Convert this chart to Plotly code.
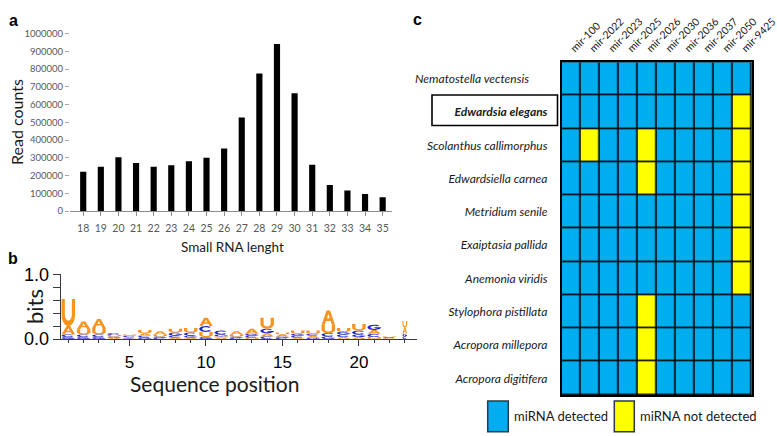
import numpy as np
import plotly.graph_objects as go

# ---------------- data ----------------
# panel a
rna_lengths = list(range(18, 36))
read_counts = [222000, 250000, 303000, 271000, 250000, 258000, 280000, 301000, 353000,
               528000, 776000, 942000, 664000, 261000, 147000, 115000, 96000, 77000]
count_ticks = list(range(0, 1000001, 100000))

# panel b (sequence logo, bits per letter)
positions = list(range(1, 24))
bits_A = [0.13, 0.12, 0.14, 0.02, 0.02, 0.04, 0.05, 0.02, 0.02, 0.13, 0.02, 0.05, 0.08, 0.05, 0.03, 0.02, 0.03, 0.22, 0.03, 0.03, 0.06, 0.01, 0.10]
bits_C = [0.04, 0.04, 0.04, 0.03, 0.02, 0.03, 0.02, 0.03, 0.05, 0.09, 0.06, 0.02, 0.03, 0.04, 0.02, 0.03, 0.03, 0.05, 0.04, 0.06, 0.05, 0.01, 0.04]
bits_G = [0.03, 0.03, 0.03, 0.02, 0.01, 0.02, 0.02, 0.05, 0.03, 0.03, 0.03, 0.02, 0.03, 0.07, 0.02, 0.03, 0.02, 0.04, 0.04, 0.04, 0.08, 0.01, 0.04]
bits_U = [0.42, 0.08, 0.10, 0.02, 0.02, 0.05, 0.03, 0.06, 0.07, 0.08, 0.02, 0.03, 0.02, 0.17, 0.03, 0.05, 0.05, 0.13, 0.06, 0.10, 0.03, 0.01, 0.10]
bits_ticks = [0.0, 0.2, 0.4, 0.6, 0.8, 1.0]
bits_ticktext = ["0.0", "", "", "", "", "1.0"]

# panel c
mirnas = ["mir-100", "mir-2022", "mir-2023", "mir-2025", "mir-2026",
          "mir-2030", "mir-2036", "mir-2037", "mir-2050", "mir-9425"]
species = ["Nematostella vectensis", "Edwardsia elegans", "Scolanthus callimorphus",
           "Edwardsiella carnea", "Metridium senile", "Exaiptasia pallida",
           "Anemonia viridis", "Stylophora pistillata", "Acropora millepora",
           "Acropora digitifera"]
detected = [
    [1, 1, 1, 1, 1, 1, 1, 1, 1, 1],
    [1, 1, 1, 1, 1, 1, 1, 1, 1, 0],
    [1, 0, 1, 1, 0, 1, 1, 1, 1, 0],
    [1, 1, 1, 1, 0, 1, 1, 1, 1, 0],
    [1, 1, 1, 1, 1, 1, 1, 1, 1, 0],
    [1, 1, 1, 1, 1, 1, 1, 1, 1, 0],
    [1, 1, 1, 1, 1, 1, 1, 1, 1, 0],
    [1, 1, 1, 1, 0, 1, 1, 1, 1, 1],
    [1, 1, 1, 1, 0, 1, 1, 1, 1, 1],
    [1, 1, 1, 1, 0, 1, 1, 1, 1, 1],
]
highlight_species = "Edwardsia elegans"
legend_labels = ["miRNA detected", "miRNA not detected"]

# ---------------- styles ----------------
W, H = 777, 436
BLUE = "#00AEEF"
YELLOW = "#FFFF00"
ORANGE = "#F7941D"
LOGO_BLUE = "#2222C4"
LETTER_COLORS = {"A": ORANGE, "U": ORANGE, "C": LOGO_BLUE, "G": LOGO_BLUE}
LETTER_W = 0.88
NARROW_W = {23: 0.3}


def px(x):
    return x / W


def py(y):
    return 1 - y / H


def arc(cx, cy, rx, ry, a0, a1, n=28):
    t = np.radians(np.linspace(a0, a1, n))
    return list(zip(cx + rx * np.cos(t), cy + ry * np.sin(t)))


GLYPHS = {
    "U": ([[(0, 1)] + arc(.5, .42, .5, .42, 180, 360) + [(1, 1), (.76, 1)]
           + arc(.5, .44, .26, .24, 360, 180) + [(.24, 1)]], "nonzero"),
    "A": ([[(0, 0), (.37, 1), (.63, 1), (1, 0), (.76, 0), (.67, .27), (.33, .27), (.24, 0)],
           [(.4, .45), (.5, .76), (.6, .45)]], "evenodd"),
    "C": ([arc(.5, .5, .5, .5, 40, 320) + arc(.5, .5, .28, .3, 320, 40)], "nonzero"),
    "G": ([arc(.5, .5, .5, .5, 40, 345) + arc(.5, .5, .28, .3, 345, 40),
           [(.52, .34), (1, .34), (1, .5), (.52, .5)]], "nonzero"),
}

fig = go.Figure()

# ---------------- panel a: bars ----------------
fig.add_trace(go.Bar(x=rna_lengths, y=read_counts, width=0.35,
                     marker=dict(color="black", line=dict(width=0)),
                     xaxis="x", yaxis="y", showlegend=False))

# ---------------- panel b: sequence logo ----------------
shapes = []
letter_bits = {"A": bits_A, "C": bits_C, "G": bits_G, "U": bits_U}
for i, p in enumerate(positions):
    w = NARROW_W.get(p, LETTER_W)
    stack = sorted(((letter_bits[L][i], L) for L in "ACGU"), key=lambda t: t[0])
    base = 0.0
    for h, L in stack:
        if h <= 0:
            continue
        subpaths, rule = GLYPHS[L]
        d = ""
        for sp in subpaths:
            pts = [(p - w / 2 + u * w, base + v * h) for u, v in sp]
            d += "M" + " L".join(f"{a:.4f},{b:.5f}" for a, b in pts) + " Z "
        shapes.append(dict(type="path", path=d, xref="x2", yref="y2",
                           fillcolor=LETTER_COLORS[L], line=dict(width=0),
                           fillrule=rule, layer="above"))
        base += h

# invisible trace to anchor logo axes
fig.add_trace(go.Scatter(x=positions, y=[0] * len(positions), mode="markers",
                         marker=dict(opacity=0), xaxis="x2", yaxis="y2",
                         showlegend=False, hoverinfo="skip"))

# ---------------- panel c: heatmap ----------------
fig.add_trace(go.Heatmap(z=detected, x=mirnas, y=species, xaxis="x3", yaxis="y3",
                         colorscale=[[0, YELLOW], [0.5, YELLOW], [0.5, BLUE], [1, BLUE]],
                         zmin=0, zmax=1, showscale=False, xgap=1.6, ygap=1.6,
                         hoverinfo="skip"))
shapes.append(dict(type="rect", xref="x3 domain", yref="y3 domain", x0=0, x1=1, y0=0, y1=1,
                   fillcolor="black", line=dict(width=0), layer="below"))

# box around highlighted species
shapes.append(dict(type="rect", xref="paper", yref="paper",
                   x0=px(432), x1=px(557.5), y0=py(125.5), y1=py(95),
                   line=dict(color="black", width=1.6), fillcolor="rgba(0,0,0,0)"))

# legend boxes
legend_boxes = [(487.7, 508.3, BLUE), (614.3, 634.3, YELLOW)]
for (x0, x1, c) in legend_boxes:
    shapes.append(dict(type="rect", xref="paper", yref="paper",
                       x0=px(x0), x1=px(x1), y0=py(431.7), y1=py(401),
                       fillcolor=c, line=dict(color="#2b3a4a", width=1.5)))

row_text = []
for s in species:
    if s == highlight_species:
        row_text.append(f"<b><i>{s}</i></b>")
    elif s == species[0]:
        row_text.append(f"<i>{s}</i>" + "\u00a0" * 6)
    else:
        row_text.append(f"<i>{s}</i>")

annotations = []


def ann(text, x, y, size, family="Lato", angle=0, color="#1a1a1a", xanchor="center"):
    annotations.append(dict(text=text, x=px(x), y=py(y), xref="paper", yref="paper",
                            showarrow=False, textangle=angle, xanchor=xanchor,
                            yanchor="middle", font=dict(size=size, family=family, color=color)))


ann("<b>a</b>", 13, 21, 16, family="Liberation Sans", color="black")
ann("<b>b</b>", 13, 258, 16, family="Liberation Sans", color="black")
ann("<b>c</b>", 417, 19, 16, family="Liberation Sans", color="black")
ann("Read counts", 16, 122, 16, angle=-90)
ann("Small RNA lenght", 233, 246.5, 13.5)
ann("bits", 34, 307, 22, angle=-90)
ann("Sequence position", 214, 383, 21)
ann(legend_labels[0], 511.5, 416, 13, xanchor="left")
ann(legend_labels[1], 637.5, 416, 13, xanchor="left")

fig.update_layout(
    width=W, height=H, margin=dict(l=0, r=0, t=0, b=0, autoexpand=False),
    paper_bgcolor="white", plot_bgcolor="rgba(0,0,0,0)",
    shapes=shapes, annotations=annotations, showlegend=False,
    xaxis=dict(domain=[px(70), px(392)], range=[17.25, 35.53], tickvals=rna_lengths,
               showline=True, linecolor="#8c8c8c", linewidth=1, ticks="outside",
               ticklen=4, tickcolor="#8c8c8c", showgrid=False, zeroline=False,
               tickfont=dict(family="Lato", size=10.5, color="#595959"),
               ticklabelstandoff=3, anchor="y", automargin=False),
    yaxis=dict(domain=[py(211), py(33.7)], range=[0, 1000000], tickvals=count_ticks,
               tickformat="d", showline=False, ticks="outside", ticklen=4,
               tickcolor="#a6a6a6", showgrid=False, zeroline=False,
               tickfont=dict(family="Lato", size=9.5, color="#595959"), anchor="x",
               automargin=False),
    xaxis2=dict(domain=[px(60.7), px(417)], range=[0.5, 23.8], tick0=0, dtick=5,
                showline=True, linecolor="#3a3a3a", linewidth=1.2, ticks="outside",
                ticklen=6, tickcolor="#3a3a3a", showgrid=False, zeroline=False,
                minor=dict(dtick=1, tick0=0, ticks="outside", ticklen=3, tickcolor="#3a3a3a"),
                tickfont=dict(family="Liberation Sans", size=17, color="black"),
                ticklabelstandoff=1, anchor="y2", automargin=False),
    yaxis2=dict(domain=[py(339), py(274.3)], range=[0, 1], tickvals=bits_ticks,
                ticktext=bits_ticktext, showline=True, linecolor="#3a3a3a", linewidth=1.2,
                ticks="outside", ticklen=7, tickcolor="#3a3a3a", showgrid=False,
                zeroline=False, tickfont=dict(family="Liberation Sans", size=18, color="black"),
                anchor="x2", automargin=False),
    xaxis3=dict(domain=[px(561.7), px(751.7)], side="top", tickangle=-45, ticks="",
                showline=True, mirror=True, linecolor="black", linewidth=1.6,
                showgrid=False, zeroline=False, ticklabelstandoff=2,
                tickfont=dict(family="Lato", size=10.5, color="#1a1a1a"), anchor="y3",
                automargin=False),
    yaxis3=dict(domain=[py(395), py(62.3)], autorange="reversed", tickvals=species,
                ticktext=row_text, ticks="", showline=True, mirror=True, linecolor="black",
                linewidth=1.6, showgrid=False, zeroline=False, ticklabelstandoff=10,
                tickfont=dict(family="Lato", size=12, color="#1a1a1a"), anchor="x3",
                automargin=False),
)

fig.write_html("out.html", config={"displayModeBar": False},
               post_script="document.body.style.margin='0';document.body.style.padding='0';"
                           "document.body.style.overflow='hidden';")
